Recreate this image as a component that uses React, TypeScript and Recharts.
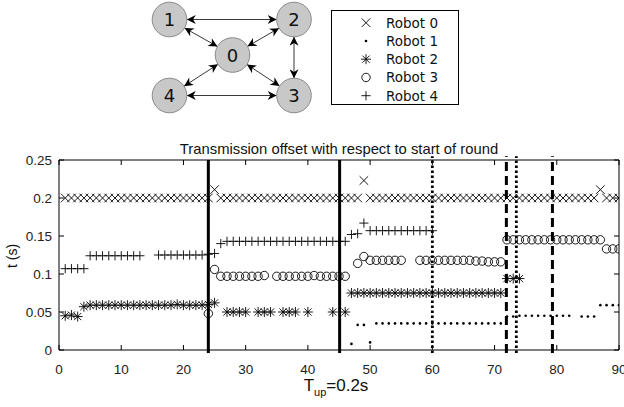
import React from "react";
import { ScatterChart, Scatter, XAxis, YAxis, ReferenceLine, Legend, Customized } from "recharts";

type Pt = [number, number];

const robotNames = ["Robot 0", "Robot 1", "Robot 2", "Robot 3", "Robot 4"];
const markerKinds = ["x", "dot", "star", "o", "plus"];

const xTicks = [0, 10, 20, 30, 40, 50, 60, 70, 80, 90];
const yTicks = [0, 0.05, 0.1, 0.15, 0.2, 0.25];
const yTickLabels = ["0", "0.05", "0.1", "0.15", "0.2", "0.25"];

// Robot 0 (x)
const robot0: Pt[] = [
  [1, 0.2], [2, 0.2], [3, 0.2], [4, 0.2], [5, 0.2], [6, 0.2], [7, 0.2], [8, 0.2], [9, 0.2], [10, 0.2],
  [11, 0.2], [12, 0.2], [13, 0.2], [14, 0.2], [15, 0.2], [16, 0.2], [17, 0.2], [18, 0.2], [19, 0.2], [20, 0.2],
  [21, 0.2], [22, 0.2], [23, 0.2], [24, 0.2], [25, 0.211], [26, 0.2], [27, 0.2], [28, 0.2], [29, 0.2], [30, 0.2],
  [31, 0.2], [32, 0.2], [33, 0.2], [34, 0.2], [35, 0.2], [36, 0.2], [37, 0.2], [38, 0.2], [39, 0.2], [40, 0.2],
  [41, 0.2], [42, 0.2], [43, 0.2], [44, 0.2], [45, 0.2], [46, 0.2], [47, 0.2], [48, 0.2], [49, 0.223], [50, 0.2],
  [51, 0.2], [52, 0.2], [53, 0.2], [54, 0.2], [55, 0.2], [56, 0.2], [57, 0.2], [58, 0.2], [59, 0.2], [60, 0.2],
  [61, 0.2], [62, 0.2], [63, 0.2], [64, 0.2], [65, 0.2], [66, 0.2], [67, 0.2], [68, 0.2], [69, 0.2], [70, 0.2],
  [71, 0.2], [72, 0.2], [73, 0.2], [74, 0.2], [75, 0.2], [76, 0.2], [77, 0.2], [78, 0.2], [79, 0.2], [80, 0.2],
  [81, 0.2], [82, 0.2], [83, 0.2], [84, 0.2], [85, 0.2], [86, 0.2], [87, 0.211], [88, 0.2], [89, 0.2], [90, 0.2],
];

// Robot 1 (.)
const robot1: Pt[] = [
  [47, 0.008], [48, 0.033], [49, 0.033], [50, 0.01],
  [51, 0.035], [52, 0.035], [53, 0.035], [54, 0.035], [55, 0.035], [56, 0.035], [57, 0.035], [58, 0.035],
  [59, 0.035], [60, 0.035], [61, 0.035], [62, 0.035], [63, 0.035], [64, 0.035], [65, 0.035], [66, 0.035],
  [67, 0.035], [68, 0.035], [69, 0.035], [70, 0.035], [71, 0.035],
  [72, 0.044], [73, 0.044], [74, 0.045], [75, 0.045], [76, 0.045], [77, 0.045], [78, 0.045], [79, 0.045],
  [80, 0.045], [81, 0.045], [82, 0.045], [84, 0.044], [85, 0.044], [86, 0.044],
  [87, 0.059], [88, 0.059], [89, 0.059], [90, 0.059],
];

// Robot 2 (*)
const robot2: Pt[] = [
  [1, 0.045], [2, 0.046], [3, 0.044], [4, 0.057], [5, 0.059], [6, 0.059], [7, 0.059], [8, 0.059], [9, 0.059],
  [10, 0.059], [11, 0.059], [12, 0.059], [13, 0.059], [14, 0.059], [15, 0.059], [16, 0.059], [17, 0.059],
  [18, 0.059], [19, 0.06], [20, 0.059], [21, 0.059], [22, 0.059], [23, 0.059], [24, 0.06], [25, 0.062],
  [27, 0.05], [28, 0.05], [29, 0.05], [30, 0.05], [32, 0.05], [33, 0.05], [34, 0.05], [36, 0.05], [37, 0.05],
  [38, 0.05], [40, 0.05], [44, 0.05], [46, 0.05],
  [47, 0.075], [48, 0.075], [49, 0.075], [50, 0.075], [51, 0.075], [52, 0.075], [53, 0.075], [54, 0.075],
  [55, 0.075], [56, 0.075], [57, 0.075], [58, 0.075], [59, 0.075], [60, 0.075], [61, 0.075], [62, 0.075],
  [63, 0.075], [64, 0.075], [65, 0.075], [66, 0.075], [67, 0.075], [68, 0.075], [69, 0.075], [70, 0.075],
  [71, 0.075], [72, 0.094], [73, 0.094], [74, 0.094],
];

// Robot 3 (o)
const robot3: Pt[] = [
  [24, 0.048], [25, 0.106], [26, 0.097], [27, 0.097], [28, 0.097], [29, 0.097], [30, 0.097], [31, 0.097],
  [32, 0.097], [33, 0.098], [35, 0.097], [36, 0.097], [37, 0.097], [38, 0.097], [39, 0.097], [40, 0.097],
  [41, 0.098], [42, 0.097], [43, 0.097], [44, 0.097], [45, 0.097], [46, 0.097],
  [48, 0.114], [49, 0.123], [50, 0.118], [51, 0.118], [52, 0.118], [53, 0.118], [54, 0.118], [55, 0.118],
  [58, 0.118], [59, 0.118], [60, 0.118], [61, 0.118], [62, 0.118], [63, 0.118], [64, 0.118], [65, 0.118],
  [66, 0.118], [67, 0.117], [68, 0.117], [69, 0.116], [70, 0.116], [71, 0.116],
  [72, 0.145], [73, 0.145], [74, 0.145], [75, 0.145], [76, 0.145], [77, 0.145], [78, 0.145], [79, 0.145],
  [80, 0.145], [81, 0.145], [82, 0.145], [83, 0.145], [84, 0.145], [85, 0.145], [86, 0.145], [87, 0.145],
  [88, 0.133], [89, 0.133], [90, 0.133],
];

// Robot 4 (+)
const robot4: Pt[] = [
  [1, 0.107], [2, 0.107], [3, 0.107], [4, 0.107],
  [5, 0.124], [6, 0.124], [7, 0.124], [8, 0.124], [9, 0.124], [10, 0.124], [11, 0.124], [12, 0.124], [13, 0.124],
  [16, 0.125], [17, 0.125], [18, 0.125], [19, 0.125], [20, 0.125], [21, 0.125], [22, 0.125], [23, 0.125],
  [24, 0.126], [25, 0.127], [26, 0.14],
  [27, 0.143], [28, 0.143], [29, 0.143], [30, 0.143], [31, 0.143], [32, 0.143], [33, 0.143], [34, 0.143],
  [35, 0.143], [36, 0.143], [37, 0.143], [38, 0.143], [39, 0.143], [40, 0.143], [41, 0.143], [42, 0.143],
  [43, 0.143], [44, 0.143], [45, 0.143], [46, 0.143],
  [47, 0.152], [48, 0.153], [49, 0.167],
  [50, 0.157], [51, 0.157], [52, 0.157], [53, 0.157], [54, 0.157], [55, 0.157], [56, 0.157], [57, 0.157],
  [58, 0.157], [59, 0.157], [60, 0.157],
];

const robots = [robot0, robot1, robot2, robot3, robot4];

// vertical event lines
const solidLines = [24, 45.1];
const dottedLines = [60, 73.5];
const dashedLines = [71.9, 79.3];

// network diagram
const nodes = [
  { id: "0", x: 232.5, y: 55 },
  { id: "1", x: 169.5, y: 19.5 },
  { id: "2", x: 294, y: 19.5 },
  { id: "3", x: 294, y: 95.5 },
  { id: "4", x: 169.5, y: 95.5 },
];
const edges = [["1", "2"], ["1", "0"], ["2", "0"], ["0", "4"], ["0", "3"], ["2", "3"], ["4", "3"]];

const W = 624;
const H = 407;
const P = { left: 59, right: 619, top: 160, bottom: 350 };
const AXIS_FONT = "'Liberation Sans', Arial, sans-serif";

function Marker({ kind, cx, cy }: { kind: string; cx: number; cy: number }) {
  const st = { stroke: "#000", strokeWidth: 0.9, fill: "none" };
  if (kind === "x") {
    const d = 4.3;
    return <path d={`M${cx - d},${cy - d}L${cx + d},${cy + d}M${cx - d},${cy + d}L${cx + d},${cy - d}`} {...st} />;
  }
  if (kind === "dot") return <circle cx={cx} cy={cy} r={1.3} fill="#000" />;
  if (kind === "star") {
    const d = 5;
    const e = 3.6;
    return (
      <path
        d={`M${cx - d},${cy}L${cx + d},${cy}M${cx},${cy - d}L${cx},${cy + d}M${cx - e},${cy - e}L${cx + e},${cy + e}M${cx - e},${cy + e}L${cx + e},${cy - e}`}
        {...st}
      />
    );
  }
  if (kind === "o") return <circle cx={cx} cy={cy} r={4.2} {...st} />;
  const d = 4.6;
  return <path d={`M${cx - d},${cy}L${cx + d},${cy}M${cx},${cy - d}L${cx},${cy + d}`} {...st} />;
}

function XTick(props: any) {
  const { x, payload } = props;
  return (
    <g>
      <line x1={x} x2={x} y1={P.bottom} y2={P.bottom - 5} stroke="#000" />
      <line x1={x} x2={x} y1={P.top} y2={P.top + 5} stroke="#000" />
      <text x={x} y={P.bottom + 24} textAnchor="middle" fontSize={13.5} fontFamily={AXIS_FONT} fill="#222">
        {payload.value}
      </text>
    </g>
  );
}

function YTick(props: any) {
  const { y, payload } = props;
  const label = yTickLabels[yTicks.indexOf(payload.value)];
  return (
    <g>
      <line x1={P.left} x2={P.left + 5} y1={y} y2={y} stroke="#000" />
      <line x1={P.right} x2={P.right - 5} y1={y} y2={y} stroke="#000" />
      <text x={P.left - 7} y={y} dy={5} textAnchor="end" fontSize={13.5} fontFamily={AXIS_FONT} fill="#222">
        {label}
      </text>
    </g>
  );
}

function Texts() {
  return (
    <g fontFamily={AXIS_FONT} fill="#111">
      <text x={(P.left + P.right) / 2} y={154} textAnchor="middle" fontSize={14.8}>
        Transmission offset with respect to start of round
      </text>
      <text x={17} y={256} transform="rotate(-90 17 256)" textAnchor="middle" fontSize={14}>
        t (s)
      </text>
      <text x={336} y={391} textAnchor="middle" fontSize={17}>
        <tspan>T</tspan>
        <tspan fontSize={11} dy={5}>up</tspan>
        <tspan dy={-5}>=0.2s</tspan>
      </text>
    </g>
  );
}

function LegendBox() {
  return (
    <svg width={128} height={95} style={{ display: "block" }}>
      <rect x={0.5} y={0.5} width={127} height={94} fill="#fff" stroke="#000" />
      {robotNames.map((n, i) => (
        <g key={n}>
          <Marker kind={markerKinds[i]} cx={35} cy={12.7 + i * 18.25} />
          <text x={55} y={12.7 + i * 18.25} dy={5} fontFamily="'DejaVu Sans', sans-serif" fontSize={13.5} fill="#111">
            {n}
          </text>
        </g>
      ))}
    </svg>
  );
}

function Network() {
  const r = 17.3;
  const byId = (id: string) => nodes.find((n) => n.id === id)!;
  return (
    <svg width={W} height={120} style={{ position: "absolute", left: 0, top: 0, pointerEvents: "none" }}>
      <defs>
        <marker id="ah" viewBox="0 0 10 10" refX={10} refY={5} markerWidth={10} markerHeight={9}
          markerUnits="userSpaceOnUse" orient="auto-start-reverse">
          <path d="M0,0 L10,5 L0,10 L3,5 z" fill="#000" />
        </marker>
      </defs>
      {edges.map(([a, b]) => {
        const A = byId(a);
        const B = byId(b);
        const dx = B.x - A.x;
        const dy = B.y - A.y;
        const len = Math.hypot(dx, dy);
        const ux = dx / len;
        const uy = dy / len;
        return (
          <line key={a + b} x1={A.x + ux * r} y1={A.y + uy * r} x2={B.x - ux * r} y2={B.y - uy * r}
            stroke="#222" strokeWidth={0.9} markerStart="url(#ah)" markerEnd="url(#ah)" />
        );
      })}
      {nodes.map((n) => (
        <g key={n.id}>
          <circle cx={n.x} cy={n.y} r={r} fill="#c8c8c8" stroke="#8a8a8a" strokeWidth={1} />
          <text x={n.x} y={n.y} dy={6.5} textAnchor="middle" fontSize={18} fontFamily="'DejaVu Sans', sans-serif" fill="#111">
            {n.id}
          </text>
        </g>
      ))}
    </svg>
  );
}

export default function App() {
  return (
    <div style={{ position: "absolute", left: 0, top: 0, width: W, height: H, background: "#fff" }}>
      <ScatterChart width={W} height={H} margin={{ top: P.top, right: W - P.right, bottom: 0, left: 0 }}>
        <XAxis type="number" dataKey="x" domain={[0, 90]} ticks={xTicks} interval={0} height={H - P.bottom}
          tickLine={false} axisLine={{ stroke: "#000" }} tick={<XTick />} allowDataOverflow />
        <YAxis type="number" dataKey="y" domain={[0, 0.25]} ticks={yTicks} interval={0} width={P.left}
          tickLine={false} axisLine={{ stroke: "#000" }} tick={<YTick />} allowDataOverflow />
        <ReferenceLine y={0.25} stroke="#000" strokeWidth={1} />
        <ReferenceLine x={90} stroke="#000" strokeWidth={1} />
        {robots.map((data, i) => (
          <Scatter key={robotNames[i]} name={robotNames[i]} data={data.map(([x, y]) => ({ x, y }))}
            isAnimationActive={false}
            shape={(p: any) => <Marker kind={markerKinds[i]} cx={p.cx} cy={p.cy} />} />
        ))}
        {solidLines.map((x) => (
          <ReferenceLine key={"s" + x} segment={[{ x, y: -0.004 }, { x, y: 0.25 }]} ifOverflow="visible"
            stroke="#000" strokeWidth={3} />
        ))}
        {dottedLines.map((x) => (
          <ReferenceLine key={"d" + x} segment={[{ x, y: -0.004 }, { x, y: 0.255 }]} ifOverflow="visible"
            stroke="#000" strokeWidth={2.8} strokeDasharray="2.5 2.5" />
        ))}
        {dashedLines.map((x) => (
          <ReferenceLine key={"b" + x} segment={[{ x, y: -0.004 }, { x, y: 0.255 }]} ifOverflow="visible"
            stroke="#000" strokeWidth={3} strokeDasharray="9 5" />
        ))}
        <Customized component={Texts} />
        <Legend layout="vertical" align="center" verticalAlign="middle" content={() => <LegendBox />}
          wrapperStyle={{ position: "absolute", left: 331, top: 10, width: 128, height: 95 }} />
      </ScatterChart>
      <Network />
    </div>
  );
}
